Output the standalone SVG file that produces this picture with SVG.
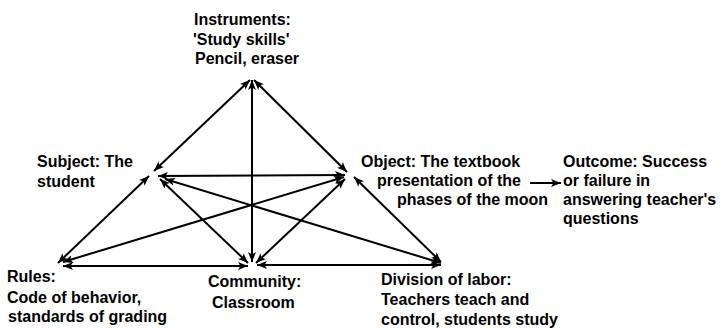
<svg xmlns="http://www.w3.org/2000/svg" width="722" height="328" viewBox="0 0 722 328">
  <style>
    text { font-family: "Liberation Sans", Arial, sans-serif; font-weight: bold; font-size: 16px; fill: #000; }
    .ln { stroke: #000; stroke-width: 2; fill: none; marker-start: url(#ah); marker-end: url(#ah); }
    .one { stroke: #000; stroke-width: 2; fill: none; marker-end: url(#ah); }
  </style>
  <defs>
    <marker id="ah" markerUnits="userSpaceOnUse" markerWidth="11" markerHeight="9" refX="10" refY="4.5" orient="auto-start-reverse" viewBox="0 0 11 9">
      <path d="M0,0.5 L10,4.5 L0,8.5 L2.5,4.5 Z" fill="#000"/>
    </marker>
  </defs>
  <rect width="722" height="328" fill="#fff"/>
  <g id="connectors">
    <line class="ln" x1="250" y1="80" x2="154" y2="171"/>
    <line class="ln" x1="254" y1="80" x2="347" y2="172"/>
    <line class="ln" x1="252" y1="80" x2="252" y2="262"/>
    <line class="ln" x1="158" y1="176" x2="345" y2="175"/>
    <line class="ln" x1="58" y1="263" x2="149" y2="176"/>
    <line class="ln" x1="63" y1="262" x2="344" y2="177"/>
    <line class="ln" x1="63" y1="266" x2="248" y2="266"/>
    <line class="ln" x1="160" y1="179" x2="248" y2="263"/>
    <line class="ln" x1="165" y1="179" x2="441" y2="263"/>
    <line class="ln" x1="345" y1="179" x2="256" y2="263"/>
    <line class="ln" x1="354" y1="177" x2="441" y2="262"/>
    <line class="ln" x1="257" y1="265" x2="441" y2="265"/>
    <line class="one" x1="530" y1="183" x2="561" y2="183"/>
  </g>
  <g id="instruments">
    <text x="194" y="25">Instruments:</text>
    <text x="193" y="45">'Study skills'</text>
    <text x="195" y="64">Pencil, eraser</text>
  </g>
  <g id="subject">
    <text x="37" y="167">Subject: The</text>
    <text x="37" y="187">student</text>
  </g>
  <g id="object">
    <text x="361" y="167">Object: The textbook</text>
    <text x="377" y="186">presentation of the</text>
    <text x="397" y="205">phases of the moon</text>
  </g>
  <g id="outcome">
    <text x="563" y="167">Outcome: Success</text>
    <text x="563" y="186">or failure in</text>
    <text x="563" y="205">answering teacher's</text>
    <text x="563" y="224">questions</text>
  </g>
  <g id="rules">
    <text x="7" y="282">Rules:</text>
    <text x="7" y="303">Code of behavior,</text>
    <text x="8" y="322">standards of grading</text>
  </g>
  <g id="community">
    <text x="208" y="287">Community:</text>
    <text x="212" y="308">Classroom</text>
  </g>
  <g id="division">
    <text x="381" y="285">Division of labor:</text>
    <text x="381" y="305">Teachers teach and</text>
    <text x="381" y="325">control, students study</text>
  </g>
</svg>
